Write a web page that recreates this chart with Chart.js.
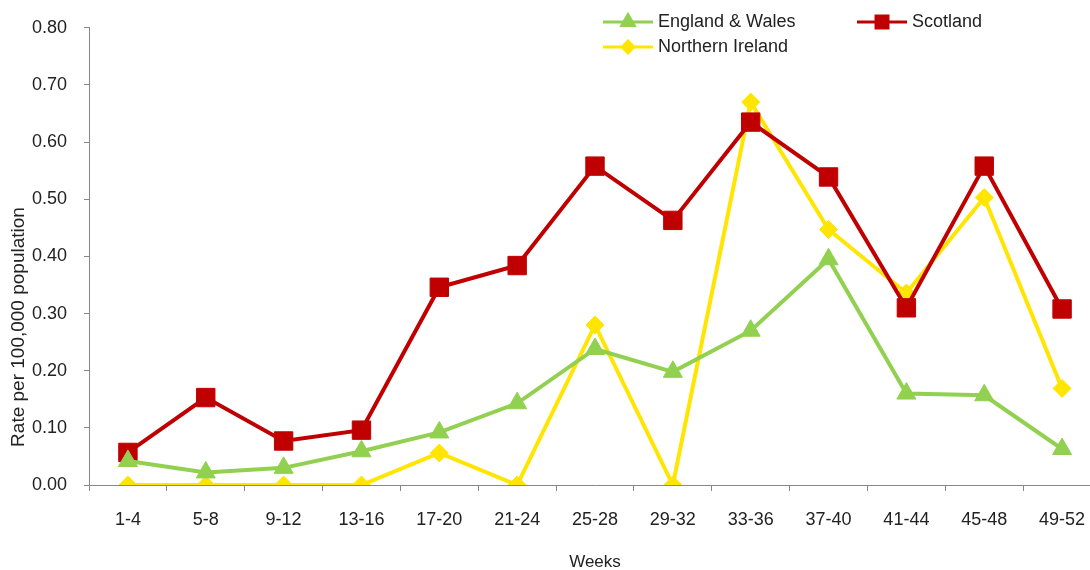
<!DOCTYPE html>
<html>
<head>
<meta charset="utf-8">
<script src="https://cdn.jsdelivr.net/npm/chart.js@4"></script>
<style>
  html, body { margin: 0; padding: 0; background: #ffffff; overflow: hidden; }
  #wrap { position: relative; width: 1115px; height: 600px; }
</style>
</head>
<body>
<div id="wrap"><canvas id="lineChart"></canvas></div>
<script>
// Data
const weeks = ['1-4', '5-8', '9-12', '13-16', '17-20', '21-24', '25-28', '29-32', '33-36', '37-40', '41-44', '45-48', '49-52'];
const englandWales = [0.042, 0.022, 0.030, 0.059, 0.092, 0.143, 0.238, 0.198, 0.270, 0.395, 0.160, 0.157, 0.063];
const scotland = [0.057, 0.153, 0.077, 0.096, 0.346, 0.384, 0.558, 0.463, 0.635, 0.539, 0.310, 0.558, 0.308];
const northernIreland = [0, 0, 0, 0, 0.056, 0, 0.280, 0, 0.670, 0.447, 0.336, 0.503, 0.169];
const yTicks = [0, 0.1, 0.2, 0.3, 0.4, 0.5, 0.6, 0.7, 0.8];

const FONT = "'Liberation Sans', Arial, sans-serif";

// Legend drawn inside the plot, two columns like the original
const legendSpots = [
    { x: 603, y: 22 },   // England & Wales
    { x: 857, y: 22 },   // Scotland
    { x: 603, y: 47 }    // Northern Ireland
];

const customLegend = {
    id: 'customLegend',
    afterDraw(chart) {
        const ctx = chart.ctx;
        ctx.save();
        chart.data.datasets.forEach((ds, i) => {
            const spot = legendSpots[i];
            const lineLen = 50;
            ctx.strokeStyle = ds.borderColor;
            ctx.lineWidth = 3;
            ctx.beginPath();
            ctx.moveTo(spot.x, spot.y);
            ctx.lineTo(spot.x + lineLen, spot.y);
            ctx.stroke();
            ctx.fillStyle = ds.pointBackgroundColor;
            ctx.strokeStyle = ds.pointBorderColor;
            Chart.helpers.drawPoint(ctx, {
                pointStyle: ds.pointStyle,
                radius: ds.pointRadius * 0.65,
                rotation: 0,
                borderWidth: 1
            }, spot.x + lineLen / 2, spot.y);
            ctx.fillStyle = '#222222';
            ctx.font = '18px ' + FONT;
            ctx.textAlign = 'left';
            ctx.textBaseline = 'middle';
            ctx.fillText(ds.label, spot.x + lineLen + 5, spot.y);
        });
        ctx.restore();
    }
};

// Y axis title, placed off-centre as in the original
const yTitle = {
    id: 'yTitle',
    afterDraw(chart) {
        const ctx = chart.ctx;
        ctx.save();
        ctx.translate(19, 327);
        ctx.rotate(-Math.PI / 2);
        ctx.fillStyle = '#222222';
        ctx.font = '19px ' + FONT;
        ctx.textAlign = 'center';
        ctx.textBaseline = 'middle';
        ctx.fillText('Rate per 100,000 population', 0, 0);
        ctx.restore();
    }
};

const ctx = document.getElementById('lineChart').getContext('2d');

new Chart(ctx, {
    type: 'line',
    data: {
        labels: weeks,
        datasets: [
            {
                label: 'England & Wales',
                data: englandWales,
                borderColor: '#92D050',
                backgroundColor: '#92D050',
                pointBackgroundColor: '#92D050',
                pointBorderColor: '#92D050',
                pointStyle: 'triangle',
                pointRadius: 11,
                pointBorderWidth: 1,
                borderWidth: 4,
                tension: 0
            },
            {
                label: 'Scotland',
                data: scotland,
                borderColor: '#C00000',
                backgroundColor: '#C00000',
                pointBackgroundColor: '#C00000',
                pointBorderColor: '#C00000',
                pointStyle: 'rect',
                pointRadius: 13,
                pointBorderWidth: 1,
                borderWidth: 4,
                tension: 0
            },
            {
                label: 'Northern Ireland',
                data: northernIreland,
                borderColor: '#FFE500',
                backgroundColor: '#FFE500',
                pointBackgroundColor: '#FFE500',
                pointBorderColor: '#FFE500',
                pointStyle: 'rectRot',
                pointRadius: 9,
                pointBorderWidth: 1,
                borderWidth: 4,
                tension: 0
            }
        ]
    },
    options: {
        responsive: true,
        maintainAspectRatio: false,
        animation: false,
        layout: {
            padding: { top: 25, right: 4, bottom: 0, left: 0 }
        },
        plugins: {
            legend: { display: false },
            tooltip: { enabled: false },
            title: { display: false }
        },
        scales: {
            x: {
                offset: true,
                grid: {
                    offset: true,
                    drawOnChartArea: false,
                    drawTicks: true,
                    tickLength: 6,
                    color: '#888888'
                },
                border: { color: '#888888', width: 1 },
                ticks: {
                    color: '#222222',
                    font: { family: FONT, size: 18 },
                    padding: 18,
                    maxRotation: 0,
                    autoSkip: false
                },
                title: {
                    display: true,
                    text: 'Weeks',
                    color: '#222222',
                    font: { family: FONT, size: 17 },
                    padding: { top: 0, bottom: 27 }
                },
                afterFit(scale) { scale.height = 115; }
            },
            y: {
                min: 0,
                max: 0.8,
                afterBuildTicks(scale) {
                    scale.ticks = yTicks.map(v => ({ value: v }));
                },
                grid: {
                    drawOnChartArea: false,
                    drawTicks: true,
                    tickLength: 5,
                    color: '#888888'
                },
                border: { color: '#888888', width: 1 },
                ticks: {
                    color: '#222222',
                    font: { family: FONT, size: 18 },
                    padding: 17,
                    callback: v => Number(v).toFixed(2)
                },
                afterFit(scale) { scale.width = 89; }
            }
        }
    },
    plugins: [customLegend, yTitle]
});
</script>
</body>
</html>
